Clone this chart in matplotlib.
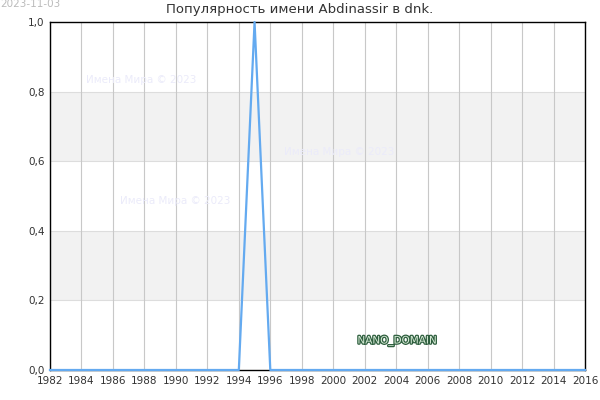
import matplotlib
matplotlib.use("Agg")
import matplotlib.pyplot as plt
import matplotlib.patheffects as pe

years = list(range(1982, 2017))
values = [1.0 if y == 1995 else 0.0 for y in years]
xticks = list(range(1982, 2017, 2))
yticks = [0.0, 0.2, 0.4, 0.6, 0.8, 1.0]
ytick_labels = ["0,0", "0,2", "0,4", "0,6", "0,8", "1,0"]
title = "Популярность имени Abdinassir в dnk."

fig = plt.figure(figsize=(6, 4), dpi=100)
ax = fig.add_axes([50/600, 1-370/400, 535/600, 348/400])

ax.set_xlim(1982, 2016)
ax.set_ylim(0, 1)

# gray bands
for lo, hi in [(0.2, 0.4), (0.6, 0.8)]:
    ax.axhspan(lo, hi, color="#f2f2f2", zorder=0, lw=0)
for yv in [0.2, 0.4, 0.6, 0.8]:
    ax.axhline(yv, color="#dddddd", lw=0.8, zorder=1)
for xv in xticks:
    ax.axvline(xv, color="#c8c8c8", lw=0.8, zorder=1)

ax.plot(years, values, color="#64aaf0", lw=1.6, zorder=3, clip_on=False)

ax.set_xticks(xticks)
ax.set_xticklabels([str(x) for x in xticks], fontsize=7.5, color="#333333")
ax.set_yticks(yticks)
ax.set_yticklabels(ytick_labels, fontsize=7.5, color="#333333")
ax.tick_params(length=0, pad=4)
for s in ax.spines.values():
    s.set_color("black")
    s.set_linewidth(1)
    s.set_zorder(2.5)

fig.text(0.5, 1-10/400, title, ha="center", va="center", fontsize=9.5, color="#333333")
fig.text(0, 1-4/400, "2023-11-03", ha="left", va="center", fontsize=7.5, color="#bbbbbb")

for (x, y) in [(86, 80), (284, 152), (120, 201)]:
    ax.text(x/600, 1-y/400, "Имена Мира © 2023", ha="left", va="center",
            fontsize=7.5, color="#ebebfa", transform=fig.transFigure, zorder=2)

t = fig.text(397/600, 1-341/400, "NANO_DOMAIN", ha="center", va="center",
             fontsize=7.5, color="#d8ecd8")
t.set_path_effects([pe.Stroke(linewidth=1.8, foreground="#2f5f3f"), pe.Normal()])

fig.savefig("out.png", dpi=100)
